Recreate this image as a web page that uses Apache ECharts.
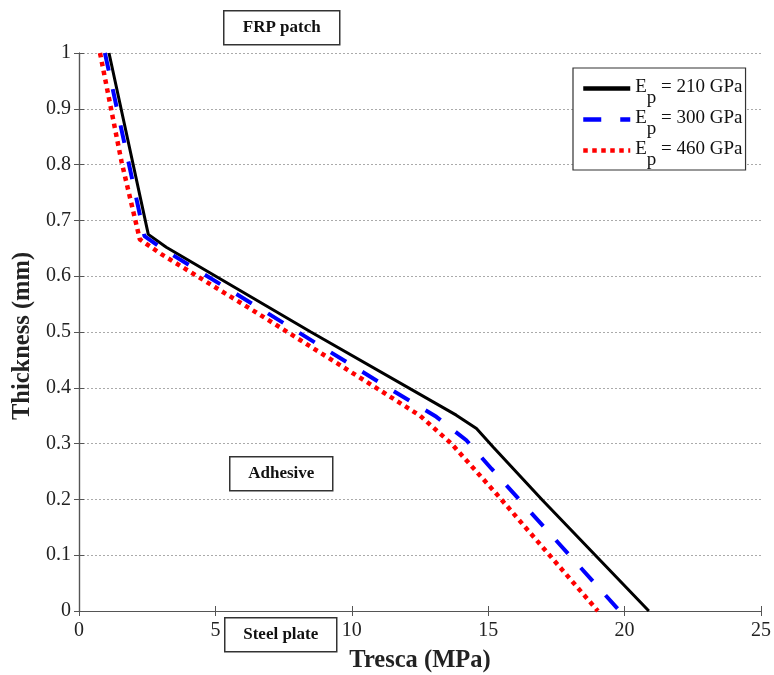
<!DOCTYPE html>
<html>
<head>
<meta charset="utf-8">
<script src="https://cdn.jsdelivr.net/npm/echarts@6/dist/echarts.min.js"></script>
<style>
  html, body { margin: 0; padding: 0; background: #fff; }
  #chart { width: 774px; height: 675px; }
</style>
</head>
<body>
<div id="chart"></div>
<script>
// Tresca stress through the thickness for three patch moduli
const modulusLabels = ['210 GPa', '300 GPa', '460 GPa'];

const tresca210 = [1.10, 2.54, 3.20, 8.50, 13.83, 14.57, 15.18, 17.00, 20.89];
const thick210  = [1.00, 0.675, 0.652, 0.500, 0.351, 0.327, 0.294, 0.198, 0.000];

const tresca300 = [0.95, 2.40, 3.10, 6.87, 11.40, 13.10, 14.20, 15.12, 19.82];
const thick300  = [1.00, 0.672, 0.648, 0.535, 0.398, 0.348, 0.306, 0.255, 0.000];

const tresca460 = [0.77, 1.56, 2.23, 3.00, 6.50, 11.15, 12.50, 13.65, 15.30, 19.02];
const thick460  = [1.00, 0.805, 0.666, 0.640, 0.535, 0.392, 0.350, 0.300, 0.210, 0.000];

const xTicks = [0, 5, 10, 15, 20, 25];
const yTicks = [0, 0.1, 0.2, 0.3, 0.4, 0.5, 0.6, 0.7, 0.8, 0.9, 1];

const layerLabels = ['FRP patch', 'Adhesive', 'Steel plate'];

const serif = 'Liberation Serif';

function pairs(xs, ys) {
  return xs.map((x, i) => [x, ys[i]]);
}

const chart = echarts.init(document.getElementById('chart'), null, { renderer: 'canvas' });

const axisColor = '#555';

const baseX = {
  type: 'value',
  min: xTicks[0],
  max: xTicks[xTicks.length - 1],
  interval: 5,
  axisLine: { show: true, lineStyle: { color: axisColor, width: 1.2 } },
  axisTick: { show: true, inside: true, length: 5, lineStyle: { color: axisColor } },
  splitLine: { show: false }
};
const baseY = {
  type: 'value',
  min: yTicks[0],
  max: yTicks[yTicks.length - 1],
  interval: 0.1,
  axisLine: { show: true, lineStyle: { color: axisColor, width: 1.2 } },
  axisTick: { show: true, inside: true, length: 5, lineStyle: { color: axisColor } }
};

// Line styles per modulus: solid black, long blue dashes, red dots
const styles = [
  { color: '#000000', width: 3, type: 'solid' },
  { color: '#0000ff', width: 4, type: [18, 19] },
  { color: '#ff0000', width: 4.5, type: [4.5, 4.5] }
];
const dataSets = [pairs(tresca210, thick210), pairs(tresca300, thick300), pairs(tresca460, thick460)];

const series = modulusLabels.map((name, i) => ({
  name: name,
  type: 'line',
  data: dataSets[i],
  symbol: 'none',
  silent: true,
  animation: false,
  z: 5,
  lineStyle: { color: styles[i].color, width: styles[i].width, type: styles[i].type, cap: 'butt' },
  itemStyle: { color: styles[i].color }
}));

function boxGraphic(label, x, y, w, h) {
  return {
    type: 'group',
    left: x, top: y, z: 100,
    children: [
      { type: 'rect', shape: { x: 0, y: 0, width: w, height: h },
        style: { fill: '#fff', stroke: '#333', lineWidth: 1.5 } },
      { type: 'text', x: w / 2, y: h / 2,
        style: { text: label, fill: '#111', font: 'bold 17px "' + serif + '"',
                 align: 'center', verticalAlign: 'middle' } }
    ]
  };
}

chart.setOption({
  backgroundColor: '#fff',
  animation: false,
  grid: { left: 79, right: 13, top: 53, bottom: 64, containLabel: false, outerBoundsMode: 'none' },
  xAxis: [
    Object.assign({}, baseX, {
      position: 'bottom',
      name: 'Tresca (MPa)',
      nameLocation: 'middle',
      nameGap: 37,
      nameTextStyle: { fontFamily: serif, fontSize: 24.5, fontWeight: 'bold', color: '#222' },
      axisLabel: { show: true, margin: 10, fontFamily: serif, fontSize: 20, color: '#222' }
    }),
    Object.assign({}, baseX, { position: 'top', axisLabel: { show: false } })
  ],
  yAxis: [
    Object.assign({}, baseY, {
      position: 'left',
      name: 'Thickness (mm)',
      nameLocation: 'middle',
      nameGap: 34,
      nameTextStyle: { fontFamily: serif, fontSize: 24.5, fontWeight: 'bold', color: '#222', padding: [0, 8, 0, 0] },
      axisLabel: { show: true, margin: 8, fontFamily: serif, fontSize: 20, color: '#222' },
      splitLine: { show: true, lineStyle: { color: '#aaa', type: [2, 2], width: 1 } }
    }),
    Object.assign({}, baseY, { position: 'right', axisLabel: { show: false }, splitLine: { show: false } })
  ],
  legend: {
    show: true,
    orient: 'vertical',
    left: 573, top: 68,
    padding: [10, 3, 0, 8],
    itemWidth: 47,
    itemHeight: 14,
    itemGap: 1,
    backgroundColor: '#fff',
    borderColor: '#333',
    borderWidth: 1.2,
    borderRadius: 0,
    selectedMode: false,
    itemStyle: { color: 'rgba(0,0,0,0)', borderWidth: 0, opacity: 0 },
    formatter: name => '{e|E}{p|p}{r| = ' + name + '}',
    textStyle: {
      fontFamily: serif,
      fontSize: 19,
      color: '#111',
      rich: {
        e: { fontFamily: serif, fontSize: 19, padding: [0, 0, 2, 0] },
        p: { fontFamily: serif, fontSize: 19, padding: [20, 0, 0, 0] },
        r: { fontFamily: serif, fontSize: 19, padding: [0, 0, 2, 0] }
      }
    },
    data: modulusLabels.map((name, i) => ({
      name: name,
      itemStyle: { color: 'rgba(0,0,0,0)', borderWidth: 0, opacity: 0 },
      lineStyle: { color: styles[i].color, width: 4.5, type: styles[i].type, cap: 'butt' }
    }))
  },
  graphic: [
    boxGraphic(layerLabels[0], 223, 10, 116, 34),
    boxGraphic(layerLabels[1], 229, 456, 103, 34),
    boxGraphic(layerLabels[2], 224, 617, 112, 34)
  ],
  series: series
});
</script>
</body>
</html>
